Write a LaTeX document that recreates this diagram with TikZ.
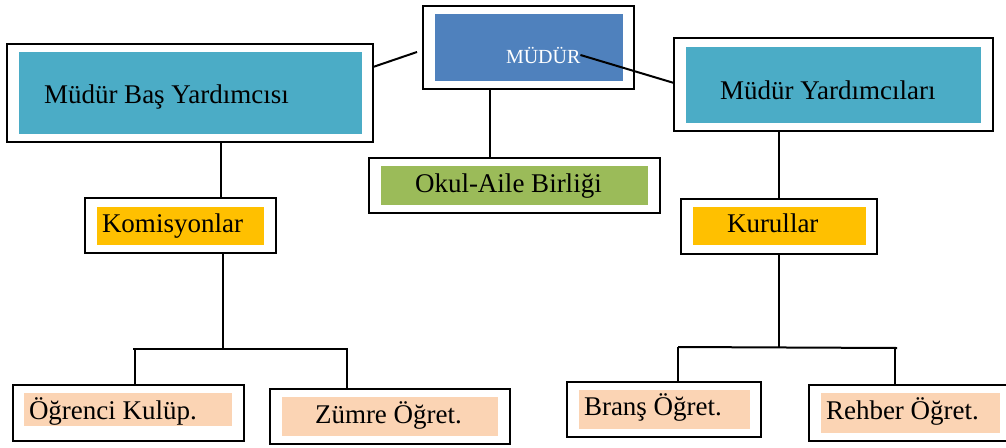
\documentclass[tikz,border=0pt]{standalone}
\usepackage{fontspec}
\setmainfont{Liberation Serif}
\definecolor{cteal}{HTML}{4BACC6}
\definecolor{cblue}{HTML}{4F81BD}
\definecolor{cgreen}{HTML}{9BBB59}
\definecolor{corange}{HTML}{FFC000}
\definecolor{cpeach}{HTML}{FBD4B4}
\tikzset{
  outerbox/.style={rectangle, draw=black, line width=2.2pt, fill=white, inner sep=0pt, outer sep=0pt, anchor=north west},
  innerbox/.style={rectangle, draw=none, inner sep=0pt, outer sep=0pt, anchor=north west},
  lbl/.style={inner sep=0pt, outer sep=0pt, anchor=base west, font=\fontsize{27}{30}\selectfont},
  conn/.style={line width=2pt, line cap=butt}
}
\begin{document}
\begin{tikzpicture}[x=1pt,y=-1pt]
\clip (0,0) rectangle (1006,447);
\fill[white] (0,0) rectangle (1006,447);
% boxes
\node[outerbox, minimum width=366pt, minimum height=98pt] (mbyO) at (7,44) {};
\node[innerbox, fill=cteal, minimum width=343pt, minimum height=82pt] (mbyI) at (19,52) {};
\node[lbl] (mbyT) at (44,103) {Müdür Baş Yardımcısı};

\node[outerbox, minimum width=211pt, minimum height=83pt] (mudurO) at (423,6) {};
\node[innerbox, fill=cblue, minimum width=188pt, minimum height=67pt] (mudurI) at (435,14) {};
\node[lbl, text=white, font=\fontsize{20}{24}\selectfont] (mudurT) at (506,63) {MÜDÜR};

\node[outerbox, minimum width=319pt, minimum height=93pt] (myO) at (674,38) {};
\node[innerbox, fill=cteal, minimum width=295pt, minimum height=76pt] (myI) at (686,47) {};
\node[lbl] (myT) at (720,99) {Müdür Yardımcıları};

\node[outerbox, minimum width=291pt, minimum height=55pt] (okulO) at (369,158) {};
\node[innerbox, fill=cgreen, minimum width=267pt, minimum height=39pt] (okulI) at (381,166) {};
\node[lbl] (okulT) at (415,192) {Okul-Aile Birliği};

\node[outerbox, minimum width=191pt, minimum height=55pt] (komO) at (85,198) {};
\node[innerbox, fill=corange, minimum width=167pt, minimum height=38pt] (komI) at (97,207) {};
\node[lbl] (komT) at (102,232) {Komisyonlar};

\node[outerbox, minimum width=196pt, minimum height=55pt] (kurO) at (681,199) {};
\node[innerbox, fill=corange, minimum width=173pt, minimum height=38pt] (kurI) at (693,207) {};
\node[lbl] (kurT) at (727,232) {Kurullar};

\node[outerbox, minimum width=231pt, minimum height=56pt] (ogrO) at (13,385) {};
\node[innerbox, fill=cpeach, minimum width=208pt, minimum height=33pt] (ogrI) at (24,393) {};
\node[lbl] (ogrT) at (29,419) {Öğrenci Kulüp.};

\node[outerbox, minimum width=240pt, minimum height=55pt] (zumO) at (270,389) {};
\node[innerbox, fill=cpeach, minimum width=216pt, minimum height=39pt] (zumI) at (282,397) {};
\node[lbl] (zumT) at (315,423) {Zümre Öğret.};

\node[outerbox, minimum width=194pt, minimum height=55pt] (braO) at (567,382) {};
\node[innerbox, fill=cpeach, minimum width=171pt, minimum height=39pt] (braI) at (579,390) {};
\node[lbl] (braT) at (584,415) {Branş Öğret.};

\node[outerbox, minimum width=203pt, minimum height=56pt] (rehO) at (809,385) {};
\node[innerbox, fill=cpeach, minimum width=179pt, minimum height=40pt] (rehI) at (821,393) {};
\node[lbl] (rehT) at (826,419) {Rehber Öğret.};

% connectors
\coordinate (c1) at (417,52);
\draw[conn] ([yshift=-23pt]mbyO.north east) -- (c1);
\draw[conn] (mudurT.east) -- ([yshift=-45pt]myO.north west);
\coordinate (x3) at (490,0);
\draw[conn] (mudurO.south -| x3) -- (okulO.north -| x3);
\coordinate (x4) at (221,0);
\draw[conn] (mbyO.south -| x4) -- (komO.north -| x4);
\draw[conn] (kurO.north |- myO.south) -- (kurO.north);
% left bracket
\coordinate (jL) at (223,349);
\coordinate (bL1) at (133,349);
\coordinate (bL2) at (348,349);
\coordinate (dL1) at (135,349);
\coordinate (dL2) at (347,349);
\draw[conn] (komO.south -| jL) -- (jL);
\draw[conn] (bL1) -- (bL2);
\draw[conn] (dL1) -- (dL1 |- ogrO.north);
\draw[conn] (dL2) -- (dL2 |- zumO.north);
% right bracket
\coordinate (bR1) at (678,347);
\coordinate (bR2) at (897,348);
\coordinate (dR2) at (895,348);
\draw[conn] (kurO.south) -- (kurO.south |- bR1);
\draw[conn] (bR1) -- (bR2);
\draw[conn] (bR1) -- (bR1 |- braO.north);
\draw[conn] (dR2) -- (dR2 |- rehO.north);
\end{tikzpicture}
\end{document}
